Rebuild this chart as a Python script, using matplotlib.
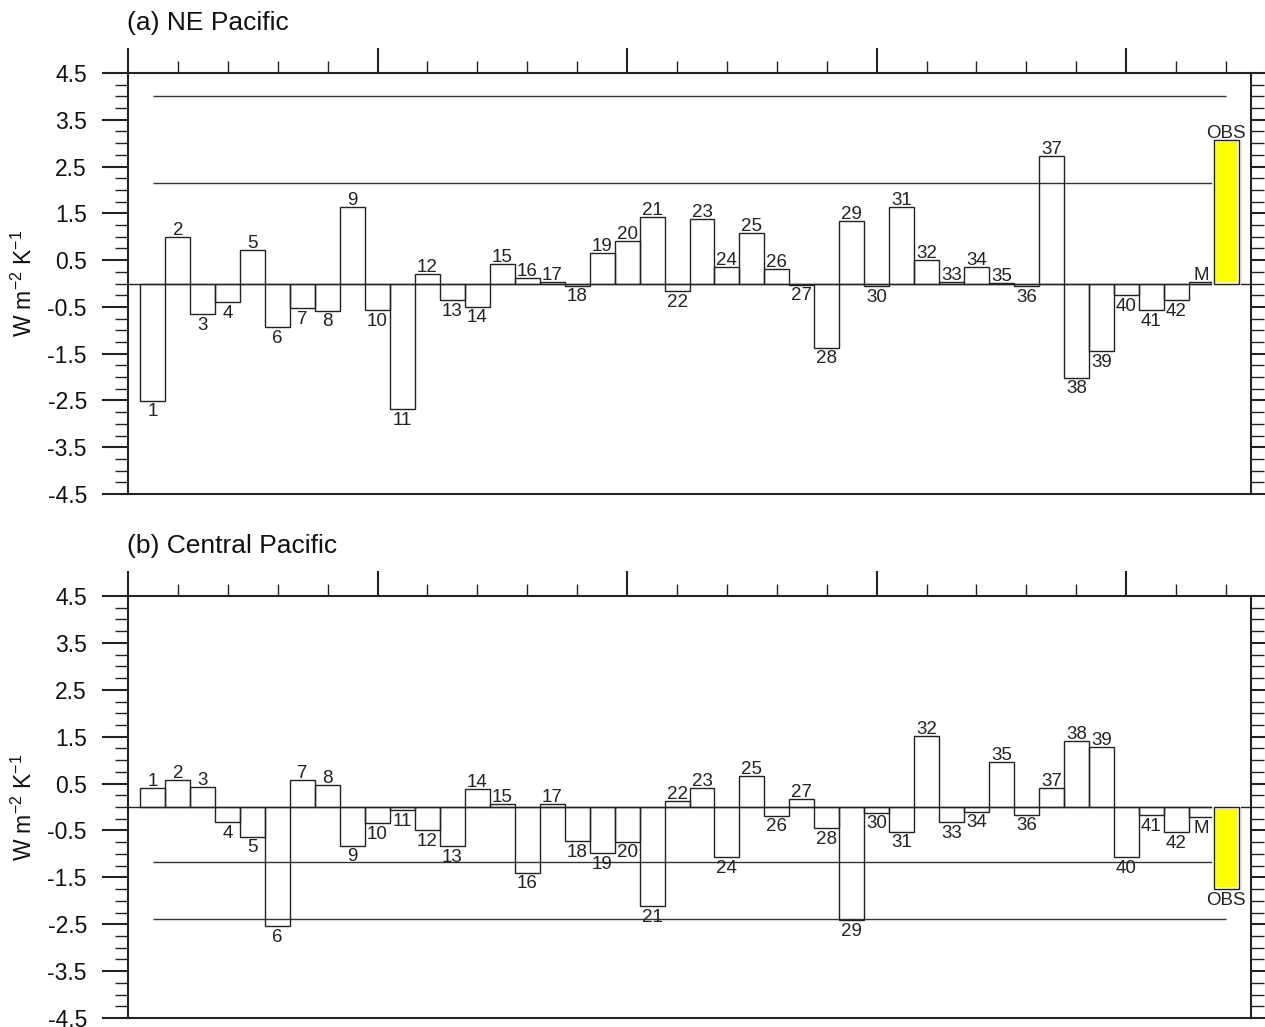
import matplotlib
matplotlib.use("Agg")
import matplotlib.pyplot as plt
import numpy as np

plt.rcParams['font.family'] = ['Liberation Sans', 'DejaVu Sans']
plt.rcParams['mathtext.fontset'] = 'custom'
plt.rcParams['mathtext.rm'] = 'Liberation Sans'
plt.rcParams['mathtext.it'] = 'Liberation Sans:italic'
plt.rcParams['axes.unicode_minus'] = False

# ---- data -------------------------------------------------------------
bar_labels = [str(i) for i in range(1, 43)] + ['M', 'OBS']

ne_pacific = [-2.51, 1.00, -0.66, -0.40, 0.71, -0.94, -0.53, -0.58, 1.64, -0.57,
              -2.69, 0.20, -0.36, -0.50, 0.42, 0.11, 0.04, -0.05, 0.66, 0.91,
              1.42, -0.17, 1.38, 0.36, 1.09, 0.32, -0.03, -1.37, 1.33, -0.06,
              1.63, 0.51, 0.03, 0.36, 0.02, -0.06, 2.72, -2.02, -1.45, -0.25,
              -0.57, -0.36, 0.03, 3.06]

central_pacific = [0.41, 0.58, 0.43, -0.32, -0.63, -2.54, 0.58, 0.46, -0.83, -0.35,
                   -0.07, -0.50, -0.84, 0.38, 0.06, -1.40, 0.06, -0.73, -0.99, -0.74,
                   -2.12, 0.12, 0.40, -1.07, 0.66, -0.19, 0.16, -0.45, -2.41, -0.12,
                   -0.53, 1.52, -0.33, -0.10, 0.96, -0.17, 0.40, 1.40, 1.27, -1.07,
                   -0.18, -0.54, -0.22, -1.75]

ne_ref_lines = [4.0, 2.15]
cp_ref_lines = [-1.18, -2.38]

panel_titles = ['(a) NE Pacific', '(b) Central Pacific']
ytick_values = [-4.5, -3.5, -2.5, -1.5, -0.5, 0.5, 1.5, 2.5, 3.5, 4.5]
ytick_labels = ['-4.5', '-3.5', '-2.5', '-1.5', '-0.5', '0.5', '1.5', '2.5', '3.5', '4.5']
ylabel_text = r'W m$^{-2}$ K$^{-1}$'

# ---- figure -----------------------------------------------------------
W, H = 1265, 1027
fig = plt.figure(figsize=(W / 100, H / 100), dpi=100)

ink = '#222222'
px = 72 / 100  # points per pixel


def draw_panel(ax, values, ref_lines):
    n = len(values)
    x = np.arange(1, n + 1)
    vals = np.array(values)

    # model bars (unfilled outlines)
    ax.bar(x[:-1], vals[:-1], width=1.0, facecolor='none', edgecolor=ink,
           linewidth=1.0, zorder=3)

    # zero line and reference lines
    ax.axhline(0, color=ink, linewidth=1.0, zorder=2)
    for r in ref_lines:
        ax.hlines(r, x[0], x[-1], color='#333333', linewidth=1.0, zorder=2)

    # observed bar: soft shadow, yellow fill, outline
    ox, ov = x[-1], vals[-1]
    s = np.sign(ov)
    for k, a in zip(range(1, 5), [0.08, 0.06, 0.04, 0.025]):
        pad = 0.06 * k
        ax.bar(ox + 0.03, ov + s * pad * 0.3, width=1.0 + pad, bottom=-s * pad * 0.12,
               color='#000000', alpha=a, linewidth=0, zorder=3.5)
    ax.bar(ox, ov, width=1.0, facecolor='white', edgecolor='none', zorder=4)
    ax.bar(ox, ov, width=1.0, facecolor='#ffff00', edgecolor='white',
           linewidth=2.6, zorder=4.2)
    ax.bar(ox, ov, width=1.0, facecolor='none', edgecolor=ink,
           linewidth=1.0, zorder=4.4)

    # value labels
    for xi, v, lab in zip(x, vals, bar_labels):
        if v >= 0:
            ax.annotate(lab, (xi, v), xytext=(0, 2 * px), textcoords='offset points',
                        ha='center', va='baseline', fontsize=13.5, color=ink, zorder=6)
        else:
            ax.annotate(lab, (xi, v), xytext=(0, -2.5 * px), textcoords='offset points',
                        ha='center', va='top', fontsize=13.5, color=ink, zorder=6)

    ax.set_xlim(0, 45)
    ax.set_ylim(-4.5, 4.5)

    # y axis: ticks outward on both sides, labels on the left
    ax.set_yticks(ytick_values)
    ax.set_yticklabels(ytick_labels)
    ax.set_yticks(np.arange(-4.5, 4.51, 0.25), minor=True)
    ax.tick_params(axis='y', which='both', direction='out', left=True, right=True,
                   labelleft=True, labelright=False, colors=ink)
    ax.tick_params(axis='y', which='major', length=26 * px, width=1.5, pad=15 * px,
                   labelsize=16.5, labelcolor='#111111')
    ax.tick_params(axis='y', which='minor', length=13 * px, width=1.0)

    # x axis: ticks on the top only, no labels
    ax.set_xticks([0, 10, 20, 30, 40])
    ax.set_xticks([v for v in range(2, 45, 2) if v % 10 != 0], minor=True)
    ax.tick_params(axis='x', which='both', direction='out', top=True, bottom=False,
                   labeltop=False, labelbottom=False, colors=ink)
    ax.tick_params(axis='x', which='major', length=25 * px, width=1.5)
    ax.tick_params(axis='x', which='minor', length=12 * px, width=1.0)

    for sp in ax.spines.values():
        sp.set_linewidth(1.5)
        sp.set_color(ink)
        sp.set_zorder(7)


left = 128 / W
width = 1123 / W
ax1 = fig.add_axes([left, 1 - 494 / H, width, 421 / H])
ax2 = fig.add_axes([left, 1 - 1018 / H, width, 422 / H])

draw_panel(ax1, ne_pacific, ne_ref_lines)
draw_panel(ax2, central_pacific, cp_ref_lines)

# panel titles
fig.text(127 / W, 1 - 30 / H, panel_titles[0], fontsize=19, color='#111111',
         ha='left', va='baseline')
fig.text(127 / W, 1 - 553 / H, panel_titles[1], fontsize=19, color='#111111',
         ha='left', va='baseline')

# y-axis titles
for yc in [(73 + 494) / 2, (596 + 1018) / 2]:
    fig.text(24 / W, 1 - yc / H, ylabel_text, rotation=90, fontsize=16.5,
             color='#111111', ha='center', va='center')

fig.savefig('out.png', dpi=100, facecolor='white')
